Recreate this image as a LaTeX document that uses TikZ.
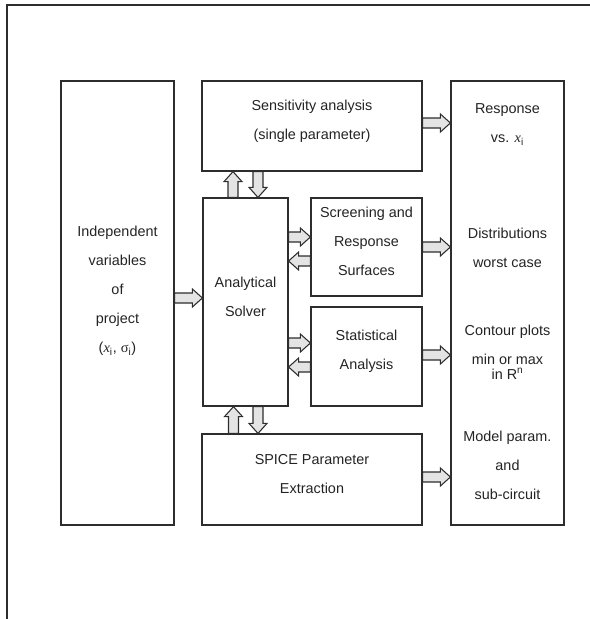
\documentclass[tikz,border=0pt]{standalone}
\usepackage{fontspec}
\setmainfont{Liberation Sans}
\newfontfamily\serifx{Liberation Serif}
\usetikzlibrary{calc,fit}

\definecolor{boxgray}{RGB}{45,45,45}
\definecolor{txtgray}{RGB}{35,35,35}
\definecolor{arrfill}{RGB}{228,228,228}

\newcommand{\xvar}{{\serifx\itshape x}\textsubscript{i}}
\newcommand{\sigvar}{{\serifx σ}\textsubscript{i}}

% hollow block arrow from #1 (tail) to #2 (tip)
\newcommand{\blockarrow}[2]{%
  \coordinate (ba-t) at (#1);
  \coordinate (ba-p) at (#2);
  \coordinate (ba-b) at ($(ba-p)!7.5pt!(ba-t)$);
  \draw[blockarr] ($(ba-t)!3.75pt!90:(ba-p)$) -- ($(ba-b)!3.75pt!-90:(ba-t)$) -- ($(ba-b)!6.75pt!-90:(ba-t)$) -- (ba-p) -- ($(ba-b)!6.75pt!90:(ba-t)$) -- ($(ba-b)!3.75pt!90:(ba-t)$) -- ($(ba-t)!3.75pt!-90:(ba-p)$) -- cycle ;}

\tikzset{every picture/.style={line width=0.75pt}}
\tikzset{
  box/.style={draw=boxgray, line width=0.9pt, inner sep=0pt, align=center, text=txtgray, font=\fontsize{10.8}{21.75}\selectfont},
  txt/.style={align=center, text=txtgray, font=\fontsize{10.8}{21.75}\selectfont},
  blockarr/.style={draw=boxgray, fill=arrfill, line width=0.8pt, line join=miter}
}

\begin{document}
\begin{tikzpicture}[x=0.75pt,y=0.75pt,yscale=-1,xscale=1]
\useasboundingbox (0,0) rectangle (590,619);

%Shape: outer frame
\draw [draw=boxgray, line width=1pt] (7,619) -- (7,5) -- (590,5) ;

%Shape: Rectangle [left]
\node [box, fit={(61,81) (174,525)}] (left) {};
%Shape: Rectangle [sensitivity]
\node [box, fit={(202,81) (422,171)}] (sens) {Sensitivity analysis\\(single parameter)};
%Shape: Rectangle [solver]
\node [box, fit={(203,198) (288,406)}] (solver) {Analytical\\Solver};
%Shape: Rectangle [screening]
\node [box, fit={(311,198) (422,296)}] (screen) {Screening and\\Response\\Surfaces};
%Shape: Rectangle [statistical]
\node [box, fit={(311,307) (422,406)}] (stat) {Statistical\\Analysis};
%Shape: Rectangle [spice]
\node [box, fit={(202,434) (422,525)}] (spice) {SPICE Parameter\\Extraction};
%Shape: Rectangle [right]
\node [box, fit={(451,81) (564,525)}] (right) {};

% Text Node
\node [txt] (lefttxt) at (117.5,291) {Independent\\variables\\of\\project\\(\xvar, \sigvar)};
% Text Node
\node [txt] (resp) at (507.5,124.5) {Response\\vs. \xvar};
% Text Node
\node [txt] (distr) at (507.5,248) {Distributions\\worst case};
% Text Node
\node [txt] (contour) at (507.5,352) {Contour plots\\min or max\\[-10.5pt]in R\textsuperscript{n}};
% Text Node
\node [txt] (model) at (507.5,465) {Model param.\\and\\sub-circuit};

% Arrows
\coordinate (p1) at ($(solver.west)+(0,-4)$);
\blockarrow{p1 -| left.east}{p1}
\coordinate (p2) at ($(right.west)+(0,-180)$);
\blockarrow{p2 -| sens.east}{p2}
\coordinate (p3) at ($(solver.north)+(-12.5,0)$);
\blockarrow{p3}{p3 |- sens.south}
\coordinate (p4) at ($(solver.north)+(12.5,0)$);
\blockarrow{p4 |- sens.south}{p4}
\coordinate (p5) at ($(screen.west)+(0,-10)$);
\blockarrow{p5 -| solver.east}{p5}
\coordinate (p6) at ($(screen.west)+(0,14)$);
\blockarrow{p6}{p6 -| solver.east}
\blockarrow{screen.east}{screen.east -| right.west}
\coordinate (p7) at ($(stat.west)+(0,-13.5)$);
\blockarrow{p7 -| solver.east}{p7}
\coordinate (p8) at ($(stat.west)+(0,10.5)$);
\blockarrow{p8}{p8 -| solver.east}
\coordinate (p9) at ($(stat.east)+(0,-1.5)$);
\blockarrow{p9}{p9 -| right.west}
\coordinate (p10) at ($(solver.south)+(12.5,0)$);
\blockarrow{p10}{p10 |- spice.north}
\coordinate (p11) at ($(solver.south)+(-12,0)$);
\blockarrow{p11 |- spice.north}{p11}
\coordinate (p12) at ($(spice.east)+(0,-2.5)$);
\blockarrow{p12}{p12 -| right.west}

\end{tikzpicture}
\end{document}
